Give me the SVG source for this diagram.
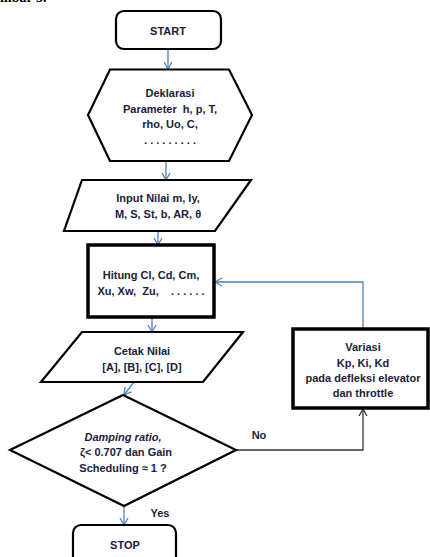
<svg xmlns="http://www.w3.org/2000/svg" width="430" height="557" viewBox="0 0 430 557">
<style>
.t{font-family:"Liberation Sans",Arial,sans-serif;font-weight:bold;font-size:11px;fill:#1c1c3a;text-anchor:middle}
.s{fill:#fff;stroke:#000;stroke-width:2.2}
.k{fill:#fff;stroke:#000;stroke-width:3.5}
.b{fill:none;stroke:#4f81bd;stroke-width:1.3;marker-end:url(#ab)}
.d{fill:none;stroke:#333;stroke-width:1.3;marker-end:url(#ad)}
</style>
<defs>
<marker id="ab" markerWidth="10" markerHeight="10" refX="8" refY="5" orient="auto" markerUnits="userSpaceOnUse"><path d="M1,1 L8,5 L1,9" fill="none" stroke="#4f81bd" stroke-width="1.3"/></marker>
<marker id="ad" markerWidth="10" markerHeight="10" refX="8" refY="5" orient="auto" markerUnits="userSpaceOnUse"><path d="M1,1 L8,5 L1,9" fill="none" stroke="#333" stroke-width="1.3"/></marker>
</defs>
<rect width="430" height="557" fill="#fff"/>
<text x="0" y="1.5" style="font-family:'Liberation Serif',serif;font-weight:bold;font-size:14px;fill:#000">mbar 3.</text>
<g id="connectors">
<path class="b" d="M168,49 V69"/>
<path class="b" d="M166,161 V180"/>
<path class="b" d="M158,231 V245"/>
<path class="b" d="M152,317 V332"/>
<path class="b" d="M134,382 L124,395"/>
<path class="b" d="M124,506 V525"/>
<path class="d" d="M236,450 H363 V409"/>
<path class="b" d="M363,329 V282 H215"/>
<text class="t" x="259" y="439">No</text>
<text class="t" x="160" y="517">Yes</text>
</g>
<g id="start">
<rect class="s" x="116" y="11" width="105" height="38" rx="8"/>
<text class="t" x="168" y="35">START</text>
</g>
<g id="deklarasi">
<polygon class="s" points="110,69.5 229,69.5 252,115 229,161 110,161 88,115"/>
<text class="t" x="170" y="97">Deklarasi</text>
<text class="t" x="170" y="113" xml:space="preserve">Parameter  h, p, T,</text>
<text class="t" x="170" y="128">rho, Uo, C,</text>
<text class="t" x="170" y="144">. . . . . . . . .</text>
</g>
<g id="input">
<polygon class="s" points="82,180 251,180 215,231 64,231"/>
<text class="t" x="158" y="202">Input Nilai m, Iy,</text>
<text class="t" x="158" y="218">M, S, St, b, AR, θ</text>
</g>
<g id="hitung">
<rect class="k" x="88" y="245" width="126" height="72"/>
<text class="t" x="151" y="279">Hitung Cl, Cd, Cm,</text>
<text class="t" x="151" y="295" xml:space="preserve">Xu, Xw,  Zu,    . . . . . .</text>
</g>
<g id="cetak">
<polygon class="s" points="82,332 243,332 203,382 41,382"/>
<text class="t" x="142" y="355">Cetak Nilai</text>
<text class="t" x="142" y="371">[A], [B], [C], [D]</text>
</g>
<g id="decision">
<polygon class="s" points="123,395 236,450 124,506 10,450"/>
<text class="t" x="123" y="441" font-style="italic">Damping ratio,</text>
<text class="t" x="126" y="456">ζ&lt; 0.707 dan Gain</text>
<text class="t" x="123" y="472">Scheduling ≈ 1 ?</text>
</g>
<g id="variasi">
<rect class="k" x="293" y="329" width="135" height="79"/>
<text class="t" x="363" y="351">Variasi</text>
<text class="t" x="363" y="367">Kp, Ki, Kd</text>
<text class="t" x="363" y="382">pada defleksi elevator</text>
<text class="t" x="363" y="397">dan throttle</text>
</g>
<g id="stop">
<rect class="s" x="73" y="525" width="103" height="45" rx="8"/>
<text class="t" x="125" y="549">STOP</text>
</g>
</svg>
